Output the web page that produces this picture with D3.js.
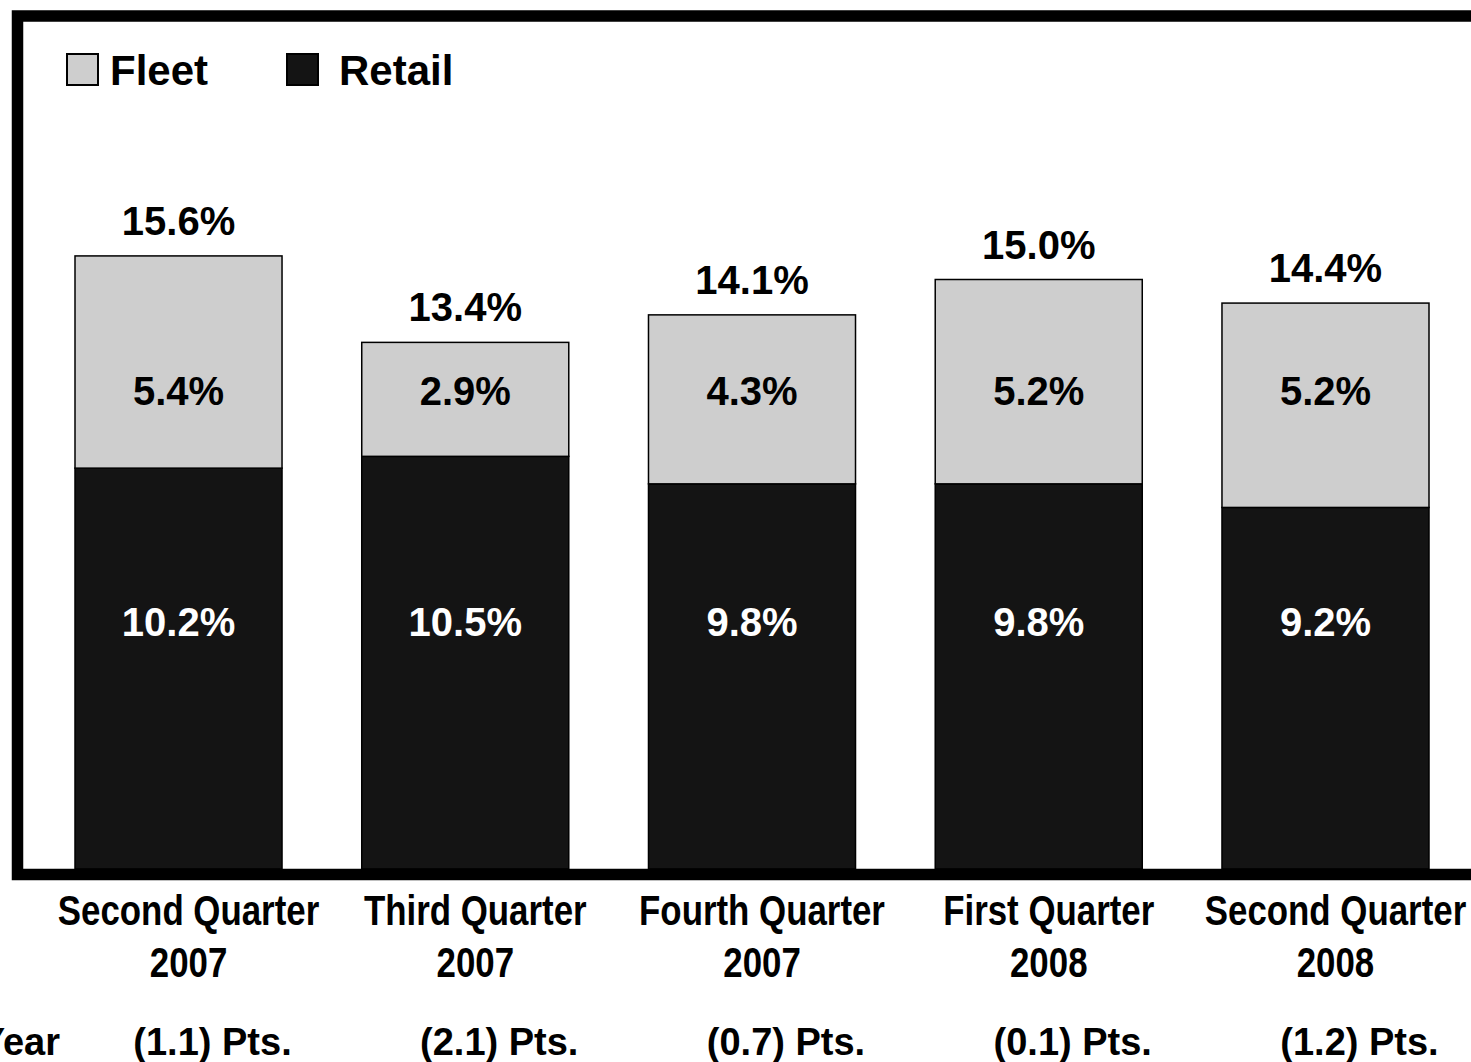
<!DOCTYPE html>
<html>
<head>
<meta charset="utf-8">
<script src="https://cdn.jsdelivr.net/npm/d3@7"></script>
<style>
html,body{margin:0;padding:0;background:#fff;overflow:hidden;}
svg{display:block;}
text{font-family:"Liberation Sans",Arial,Helvetica,sans-serif;font-weight:bold;}
</style>
</head>
<body>
<svg id="chart" width="1471" height="1062"></svg>
<script>
const categories = ["Second Quarter|2007","Third Quarter|2007","Fourth Quarter|2007","First Quarter|2008","Second Quarter|2008"];
const retail = [10.2, 10.5, 9.8, 9.8, 9.2];
const fleet = [5.4, 2.9, 4.3, 5.2, 5.2];
const totals = [15.6, 13.4, 14.1, 15.0, 14.4];
const changeLabels = ["(1.1) Pts.","(2.1) Pts.","(0.7) Pts.","(0.1) Pts.","(1.2) Pts."];
const rowLabel = "Year";
const seriesNames = ["Fleet","Retail"];
const colors = {Fleet:"#cecece", Retail:"#141414"};

const svg = d3.select("#chart");
const baseY = 869;

const x = d3.scaleBand().domain(categories).range([75, 1429]).paddingInner(0.278).paddingOuter(0);
const y = d3.scaleLinear().domain([0, 20]).range([baseY, baseY - 786]);

const rows = categories.map((c,i)=>({cat:c, Retail:retail[i], Fleet:fleet[i], total:totals[i]}));
const stack = d3.stack().keys(["Retail","Fleet"])(rows);

const g = svg.append("g");
stack.forEach(layer=>{
  g.selectAll(null).data(layer).enter().append("rect")
    .attr("x", d=>x(d.data.cat))
    .attr("width", x.bandwidth())
    .attr("y", d=>y(d[1]))
    .attr("height", d=>y(d[0])-y(d[1]))
    .attr("fill", colors[layer.key])
    .attr("stroke", "#000")
    .attr("stroke-width", 1.5);
});

// totals
g.selectAll(null).data(rows).enter().append("text")
  .attr("x", d=>x(d.cat)+x.bandwidth()/2)
  .attr("y", d=>y(d.total)-21)
  .attr("text-anchor","middle").attr("font-size",40).attr("fill","#000")
  .text(d=>d.total.toFixed(1)+"%");

// fleet labels
g.selectAll(null).data(rows).enter().append("text")
  .attr("x", d=>x(d.cat)+x.bandwidth()/2)
  .attr("y", 405)
  .attr("text-anchor","middle").attr("font-size",40).attr("fill","#000")
  .text(d=>d.Fleet.toFixed(1)+"%");

// retail labels
g.selectAll(null).data(rows).enter().append("text")
  .attr("x", d=>x(d.cat)+x.bandwidth()/2)
  .attr("y", 636)
  .attr("text-anchor","middle").attr("font-size",40).attr("fill","#fff")
  .text(d=>d.Retail.toFixed(1)+"%");

// frame
svg.append("rect").attr("x",17.5).attr("y",16).attr("width",1480).attr("height",858.5)
  .attr("fill","none").attr("stroke","#000").attr("stroke-width",11.5);

// legend
const legend = svg.append("g");
const legX = [67, 287];
const legTextX = [110, 339];
seriesNames.forEach((s,i)=>{
  legend.append("rect").attr("x",legX[i]).attr("y",54).attr("width",31).attr("height",31)
    .attr("fill",colors[s]).attr("stroke","#000").attr("stroke-width",2);
  legend.append("text").attr("x",legTextX[i]).attr("y",85).attr("font-size",42).attr("fill","#000").text(s);
});

// category labels (condensed)
categories.forEach(c=>{
  const cx = x(c)+x.bandwidth()/2+10;
  const parts = c.split("|");
  parts.forEach((p,j)=>{
    svg.append("text")
      .attr("transform",`translate(${cx},${925+j*52}) scale(0.83,1)`)
      .attr("text-anchor","middle").attr("font-size",42).attr("fill","#000")
      .text(p);
  });
});

// change row
svg.append("text").attr("x",60).attr("y",1055).attr("text-anchor","end").attr("font-size",38).attr("fill","#000").text(rowLabel);
categories.forEach((c,i)=>{
  svg.append("text")
    .attr("x", x(c)+x.bandwidth()/2+34).attr("y",1055)
    .attr("text-anchor","middle").attr("font-size",38).attr("fill","#000")
    .text(changeLabels[i]);
});
</script>
</body>
</html>
